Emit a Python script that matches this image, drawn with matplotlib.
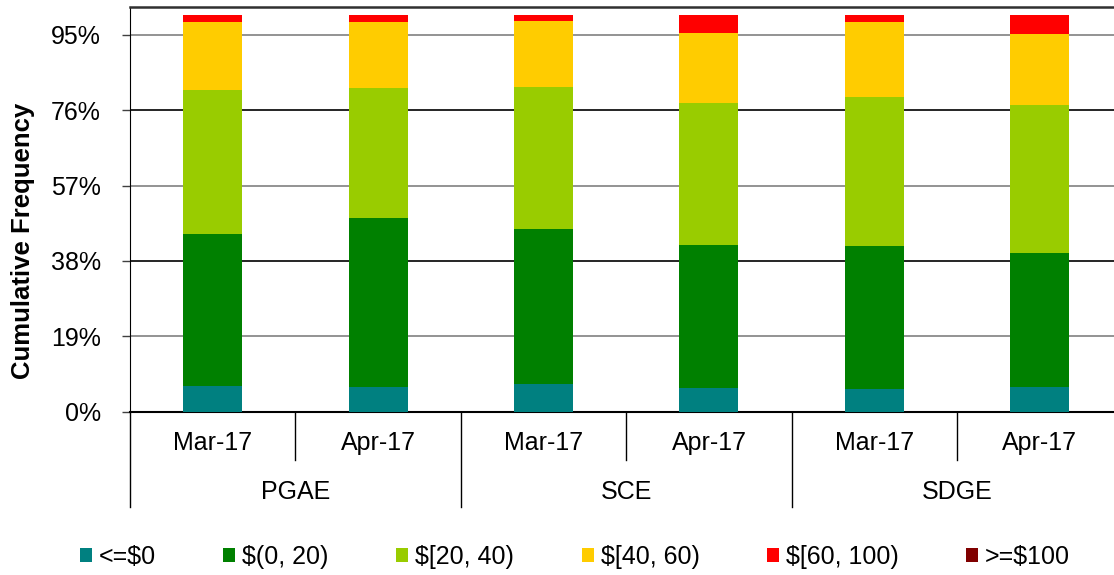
import matplotlib
matplotlib.use("Agg")
import matplotlib.pyplot as plt
from matplotlib.lines import Line2D
from matplotlib.patches import Patch
import numpy as np

plt.rcParams['font.family'] = ['Liberation Sans', 'DejaVu Sans']

groups = ["PGAE", "SCE", "SDGE"]
months = ["Mar-17", "Apr-17"]
series_names = ["<=$0", "$(0, 20)", "$[20, 40)", "$[40, 60)", "$[60, 100)", ">=$100"]
colors = ["#008080", "#008000", "#99CC00", "#FFCC00", "#FF0000", "#800000"]

# segment values (fractions) per bar: PGAE Mar, PGAE Apr, SCE Mar, SCE Apr, SDGE Mar, SDGE Apr
le0 = [0.065, 0.061, 0.070, 0.060, 0.057, 0.061]
r0_20 = [0.384, 0.426, 0.391, 0.361, 0.361, 0.340]
r20_40 = [0.362, 0.330, 0.357, 0.358, 0.375, 0.372]
r40_60 = [0.172, 0.164, 0.166, 0.176, 0.188, 0.180]
r60_100 = [0.017, 0.019, 0.016, 0.045, 0.019, 0.047]
ge100 = [0.0, 0.0, 0.0, 0.0, 0.0, 0.0]
series = [le0, r0_20, r20_40, r40_60, r60_100, ge100]

yticks = [0.0, 0.19, 0.38, 0.57, 0.76, 0.95]
ytick_labels = ["0%", "19%", "38%", "57%", "76%", "95%"]

FS = 18
W, H = 1114, 575
fig = plt.figure(figsize=(W / 100, H / 100), dpi=100)
left_px, right_px, top_px, bot_px = 130, 1122.5, 7, 411.7
ax = fig.add_axes([left_px / W, (H - bot_px) / H, (right_px - left_px) / W, (bot_px - top_px) / H])

n = len(le0)
x = np.arange(n)
bottom = np.zeros(n)
for vals, c, name in zip(series, colors, series_names):
    ax.bar(x, vals, bottom=bottom, width=0.357, color=c, edgecolor='none', label=name, zorder=3)
    bottom += np.array(vals)

ax.set_xlim(-0.5, n - 0.5)
ax.set_ylim(0, 1.02)

# gridlines
for i, t in enumerate(yticks[1:]):
    ax.axhline(t, color="#808080" if i % 2 == 0 else "black", lw=1.2, zorder=1)

ax.set_yticks(yticks)
ax.set_yticklabels(ytick_labels, fontsize=FS)
ax.tick_params(axis='y', direction='out', length=6, width=1, pad=15, color='#404040')
ax.set_xticks([])
ax.spines['right'].set_visible(False)
ax.spines['top'].set_linewidth(1.8)
ax.spines['top'].set_color('#303030')
ax.spines['left'].set_color('black')
ax.spines['bottom'].set_color('black')
ax.spines['bottom'].set_linewidth(1.5)
ax.set_ylabel("Cumulative Frequency", fontsize=18.5, fontweight='bold')
ax_w = right_px - left_px
ax_h = bot_px - top_px
ax.yaxis.set_label_coords((35 - left_px) / ax_w, (bot_px - 241) / ax_h)

# multi-level category axis
def yfrac(py):
    return (bot_px - py) / ax_h

trans = ax.get_xaxis_transform()
labels = [m for g in groups for m in months]
for xi, lab in zip(x, labels):
    ax.text(xi, yfrac(443), lab, transform=trans, ha='center', va='center', fontsize=FS)
for gi, g in enumerate(groups):
    ax.text(gi * 2 + 0.5, yfrac(492), g, transform=trans, ha='center', va='center', fontsize=FS)
for b in np.arange(-0.5, n, 1.0):
    is_group = (b + 0.5) % 2 == 0
    y1 = yfrac(507) if is_group else yfrac(460)
    ax.add_line(Line2D([b, b], [0, y1], transform=trans, color='black', lw=1, clip_on=False))

handles = [Patch(facecolor=c, edgecolor='none') for c in colors]
fig.legend(handles, series_names, loc='center', bbox_to_anchor=(575 / W, 1 - 557 / H), ncol=6,
           frameon=False, fontsize=FS, handlelength=0.48, handleheight=0.52, handletextpad=0.28,
           columnspacing=2.7)

fig.savefig("out.png", dpi=100)
